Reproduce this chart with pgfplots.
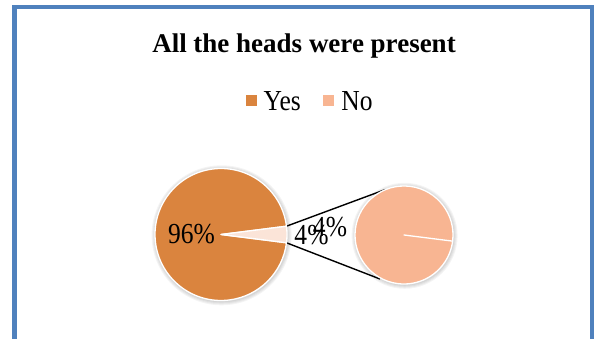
\documentclass[border=0pt]{standalone}
\usepackage{pgfplots}
\pgfplotsset{compat=1.18}
\usepackage{fontspec}
\setmainfont{Liberation Serif}
\newfontfamily\labfont[FakeStretch=0.88]{Liberation Serif}
\definecolor{yescol}{HTML}{DA843E}
\definecolor{nocol}{HTML}{F8B592}
\definecolor{palecol}{HTML}{FBE4D8}
\definecolor{framecol}{HTML}{4F81BD}
\pgfplotsset{
  wedge/.style={
    scatter, only marks, mark=*, mark size=0.01pt,
    mark options={draw opacity=0, fill opacity=0},
    visualization depends on={\thisrow{r}\as\rad},
    visualization depends on={\thisrow{start}\as\sa},
    visualization depends on={\thisrow{pct}\as\pct},
    scatter/@pre marker code/.code={%
      \pgfmathsetmacro\ea{\sa+3.6*\pct}%
      \filldraw[fill=#1, draw=white, line width=1.3pt, line join=round, fill opacity=1, draw opacity=1]
        (0pt,0pt) -- (\sa:\rad pt) arc[start angle=\sa, end angle=\ea, radius=\rad pt] -- cycle;
    },
    scatter/@post marker code/.code={},
  },
  shadowpie/.style={
    scatter, only marks, mark=*, mark size=0.01pt,
    mark options={draw opacity=0, fill opacity=0},
    visualization depends on={\thisrow{r}\as\rad},
    scatter/@pre marker code/.code={%
      \foreach \k in {1,...,4}{\fill[black, fill opacity=0.045] (0.6pt,-0.8pt) circle[radius=\rad pt+\k pt];}%
    },
    scatter/@post marker code/.code={},
  },
}
\begin{document}
\begin{tikzpicture}
\path[use as bounding box] (0,0) rectangle (594pt,339pt);
\clip (0,0) rectangle (594pt,339pt);
\begin{axis}[
  at={(0,0)}, anchor=south west,
  scale only axis, width=594pt, height=339pt,
  xmin=0, xmax=594, ymin=0, ymax=339,
  hide axis, clip=false,
]
% frame
\draw[framecol, line width=4.5pt] (axis cs:14.5,-20) -- (axis cs:14.5,332) -- (axis cs:592,332) -- (axis cs:592,-20);
% title
\node[anchor=base, inner sep=0, font=\bfseries\fontsize{27}{30}\selectfont] at (axis cs:304,286.3) {All the heads were present};
% legend
\fill[yescol] (axis cs:246,233.3) rectangle (axis cs:256.7,244);
\node[anchor=base west, inner sep=0, font=\labfont\fontsize{29}{33}\selectfont] at (axis cs:263.5,228) {Yes};
\fill[nocol] (axis cs:322.7,233.3) rectangle (axis cs:334,244);
\node[anchor=base west, inner sep=0, font=\labfont\fontsize{29}{33}\selectfont] at (axis cs:341.2,228) {No};
% shadows
\addplot[shadowpie] table[x=cx,y=cy]{
cx cy r
221 104.5 66
404 104 49
};
% primary pie: Yes 96, No 4 (shown as "Other")
\addplot[wedge=yescol] table[x=cx,y=cy]{
cx cy r start pct
221 104.5 66 7.2 96
};
\addplot[wedge=palecol] table[x=cx,y=cy]{
cx cy r start pct
221 104.5 66 -7.2 4
};
% secondary pie: No = 100% of the 4%
\addplot[wedge=nocol] table[x=cx,y=cy]{
cx cy r start pct
404 104 49 -7.2 100
};
% connector lines
\addplot[black, line width=1.4pt] coordinates {(286.5,112.8) (385.5,149.5)};
\addplot[black, line width=1.4pt] coordinates {(286.5,96.2) (380,60)};
% label anchors
\coordinate (L1) at (axis cs:191.5,95);
\coordinate (L2) at (axis cs:311.5,94);
\coordinate (L3) at (axis cs:330,102);
\end{axis}
\begin{scope}[every node/.style={anchor=base, inner sep=0, font=\labfont\fontsize{29}{33}\selectfont}]
\node at (L1) {96\%};
\node at (L2) {4\%};
\node at (L3) {4\%};
\end{scope}
\end{tikzpicture}
\end{document}
